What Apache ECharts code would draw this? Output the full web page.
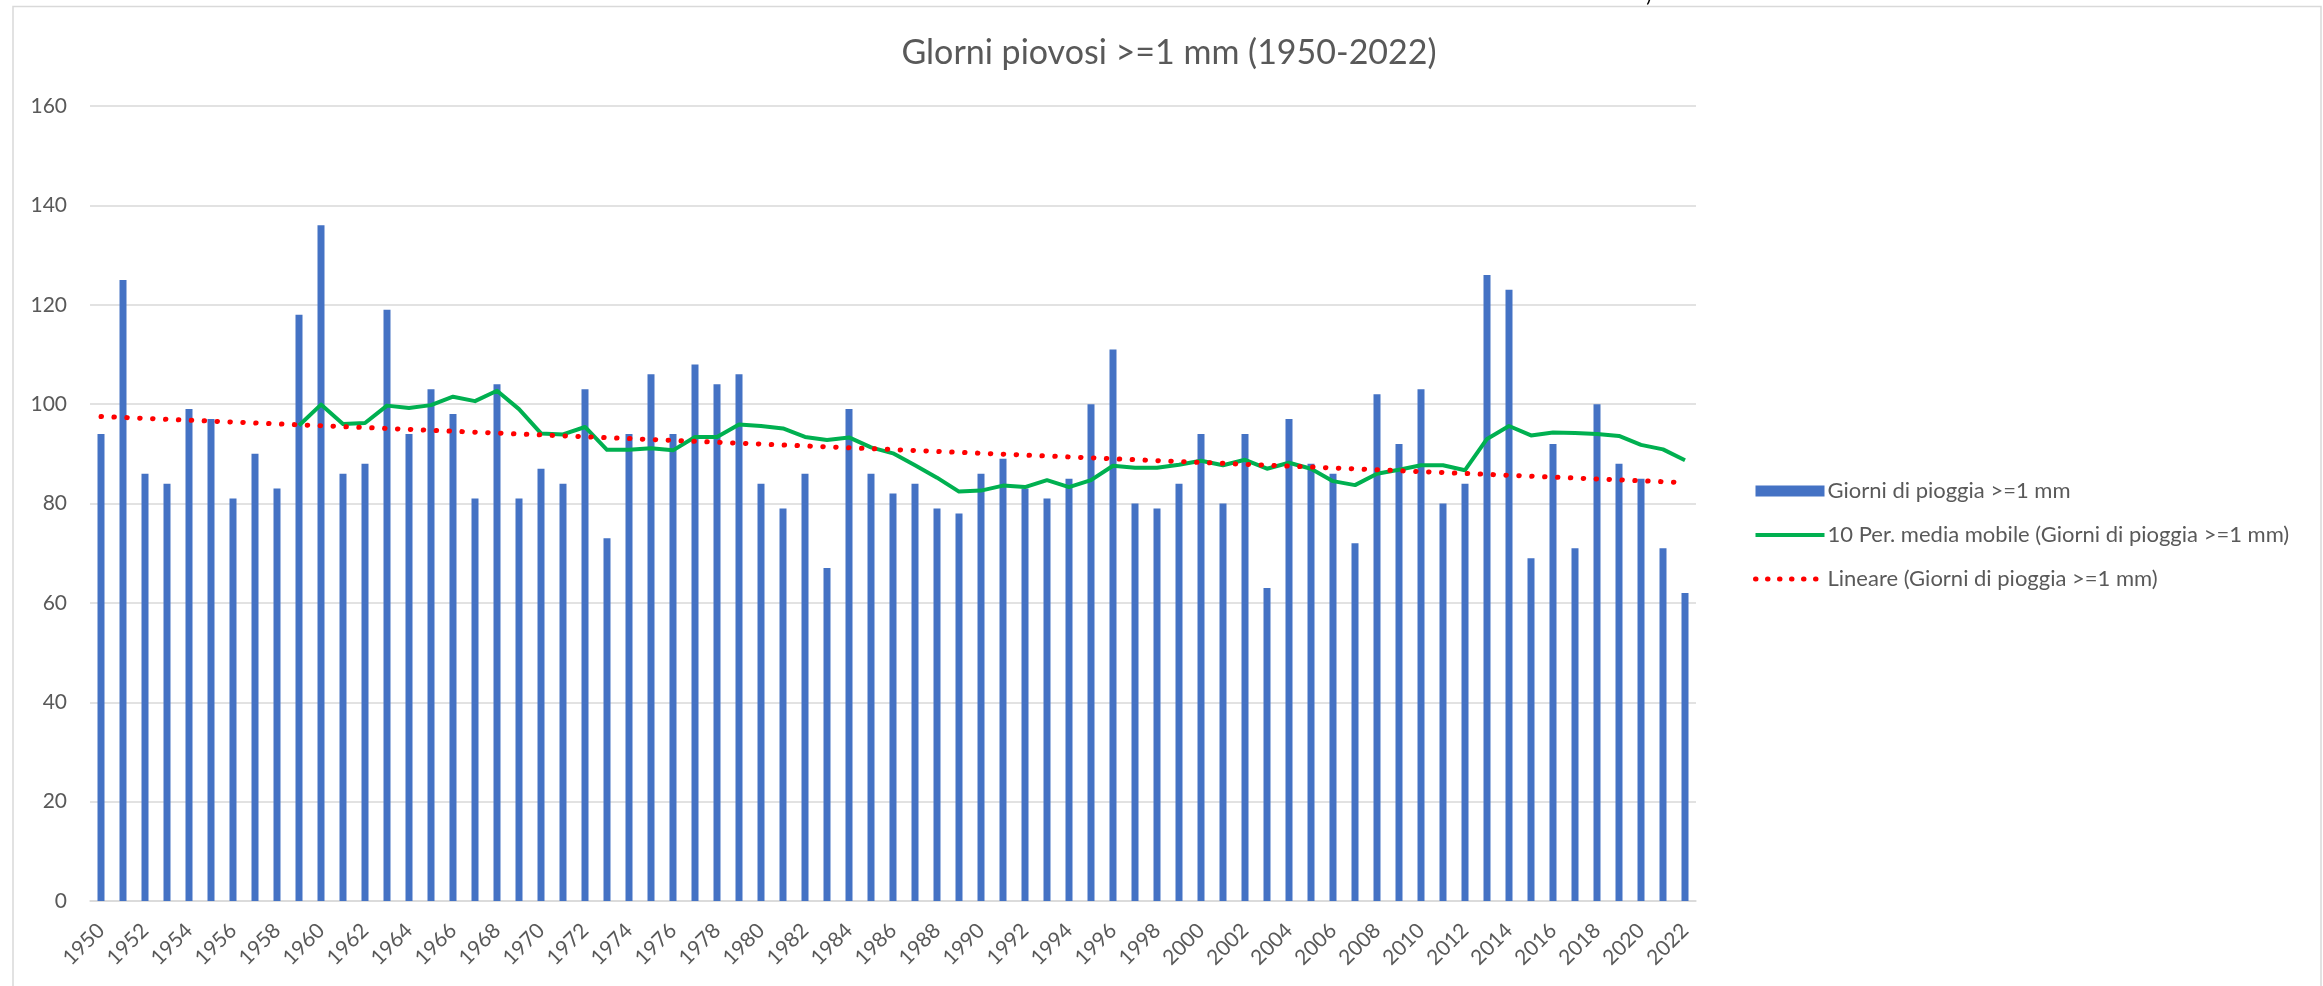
<!DOCTYPE html>
<html>
<head>
<meta charset="utf-8">
<script src="https://cdn.jsdelivr.net/npm/echarts@6/dist/echarts.min.js"></script>
<style>
html,body{margin:0;padding:0;background:#fff;}
#chart{width:2323px;height:986px;}
</style>
</head>
<body>
<div id="chart"></div>
<script>
const years = ['1950','1951','1952','1953','1954','1955','1956','1957','1958','1959',
  '1960','1961','1962','1963','1964','1965','1966','1967','1968','1969',
  '1970','1971','1972','1973','1974','1975','1976','1977','1978','1979',
  '1980','1981','1982','1983','1984','1985','1986','1987','1988','1989',
  '1990','1991','1992','1993','1994','1995','1996','1997','1998','1999',
  '2000','2001','2002','2003','2004','2005','2006','2007','2008','2009',
  '2010','2011','2012','2013','2014','2015','2016','2017','2018','2019',
  '2020','2021','2022'];

const rainDays = [94,125,86,84,99,97,81,90,83,118,
  136,86,88,119,94,103,98,81,104,81,
  87,84,103,73,94,106,94,108,104,106,
  84,79,86,67,99,86,82,84,79,78,
  86,89,83,81,85,100,111,80,79,84,
  94,80,94,63,97,88,86,72,102,92,
  103,80,84,126,123,69,92,71,100,88,
  85,71,62];

const movingAvg = [null,null,null,null,null,null,null,null,null,95.7,
  99.9,96.0,96.2,99.7,99.2,99.8,101.5,100.6,102.7,99.0,
  94.1,93.9,95.4,90.8,90.8,91.1,90.7,93.4,93.4,95.9,
  95.6,95.1,93.4,92.8,93.3,91.3,90.1,87.7,85.2,82.4,
  82.6,83.6,83.3,84.7,83.3,84.7,87.6,87.2,87.2,87.8,
  88.6,87.7,88.8,87.0,88.2,87.0,84.5,83.7,86.0,86.8,
  87.7,87.7,86.7,93.0,95.6,93.7,94.3,94.2,94.0,93.6,
  91.8,90.9,88.7];

const trendStart = 97.5;
const trendEnd = 84.2;

const seriesNames = ['Giorni di pioggia >=1 mm',
  '10 Per. media mobile (Giorni di pioggia >=1 mm)',
  'Lineare (Giorni di pioggia >=1 mm)'];
const titleText = 'Glorni piovosi >=1 mm (1950-2022)';

const trendData = years.map((y, i) => i === 0 ? trendStart : (i === years.length - 1 ? trendEnd : null));

const FONT = 'Lato, "Open Sans", sans-serif';
const chart = echarts.init(document.getElementById('chart'), null, {renderer: 'canvas'});
chart.setOption({
  animation: false,
  backgroundColor: '#ffffff',
  grid: {left: 90, right: 627, top: 106, bottom: 85, containLabel: false},
  graphic: [
    {type: 'rect', shape: {x: 13, y: 6.5, width: 2308, height: 1000}, style: {fill: 'none', stroke: '#d9d9d9', lineWidth: 1.5}, z: -1},
    {type: 'text', x: 1169, y: 53, style: {text: titleText, textAlign: 'center', textVerticalAlign: 'middle', font: '34px Lato, "Open Sans", sans-serif', fill: '#595959'}},
    {type: 'text', x: 1649, y: -14, style: {text: ')', textAlign: 'center', font: '20px Lato, sans-serif', fill: '#000000'}}
  ],
  legend: {
    orient: 'vertical',
    left: 1748,
    top: 474,
    itemWidth: 69,
    itemHeight: 11,
    itemGap: 20,
    selectedMode: false,
    textStyle: {fontFamily: FONT, fontSize: 22, color: '#595959', lineHeight: 24, padding: [0, 0, 0, -2]},
    data: [
      {name: seriesNames[0], icon: 'rect'},
      {name: seriesNames[1], itemStyle: {opacity: 0}, lineStyle: {color: '#00B050', width: 4}},
      {name: seriesNames[2], itemStyle: {opacity: 0}, lineStyle: {color: '#FF0000', width: 5, type: [0.5, 11.5], cap: 'round'}}
    ]
  },
  xAxis: {
    type: 'category',
    data: years,
    boundaryGap: true,
    axisLine: {lineStyle: {color: '#d9d9d9', width: 1.5}},
    axisTick: {show: false},
    axisLabel: {interval: 1, rotate: 45, margin: 26, fontFamily: FONT, fontSize: 21, color: '#595959'},
    splitLine: {show: false}
  },
  yAxis: {
    type: 'value',
    min: 0,
    max: 160,
    interval: 20,
    axisLine: {show: false},
    axisTick: {show: false},
    axisLabel: {margin: 23, fontFamily: FONT, fontSize: 21, color: '#595959'},
    splitLine: {lineStyle: {color: '#d9d9d9', width: 1.5}}
  },
  series: [
    {
      name: seriesNames[0],
      type: 'bar',
      data: rainDays,
      barWidth: 7,
      itemStyle: {color: '#4472C4'}
    },
    {
      name: seriesNames[1],
      type: 'line',
      data: movingAvg,
      symbol: 'none',
      showSymbol: false,
      lineStyle: {color: '#00B050', width: 4, join: 'round'},
      itemStyle: {color: '#00B050'}
    },
    {
      name: seriesNames[2],
      type: 'line',
      data: trendData,
      connectNulls: true,
      symbol: 'none',
      showSymbol: false,
      lineStyle: {color: '#FF0000', width: 5, type: [0.5, 12.4], cap: 'round'},
      itemStyle: {color: '#FF0000'}
    }
  ]
});
</script>
</body>
</html>
